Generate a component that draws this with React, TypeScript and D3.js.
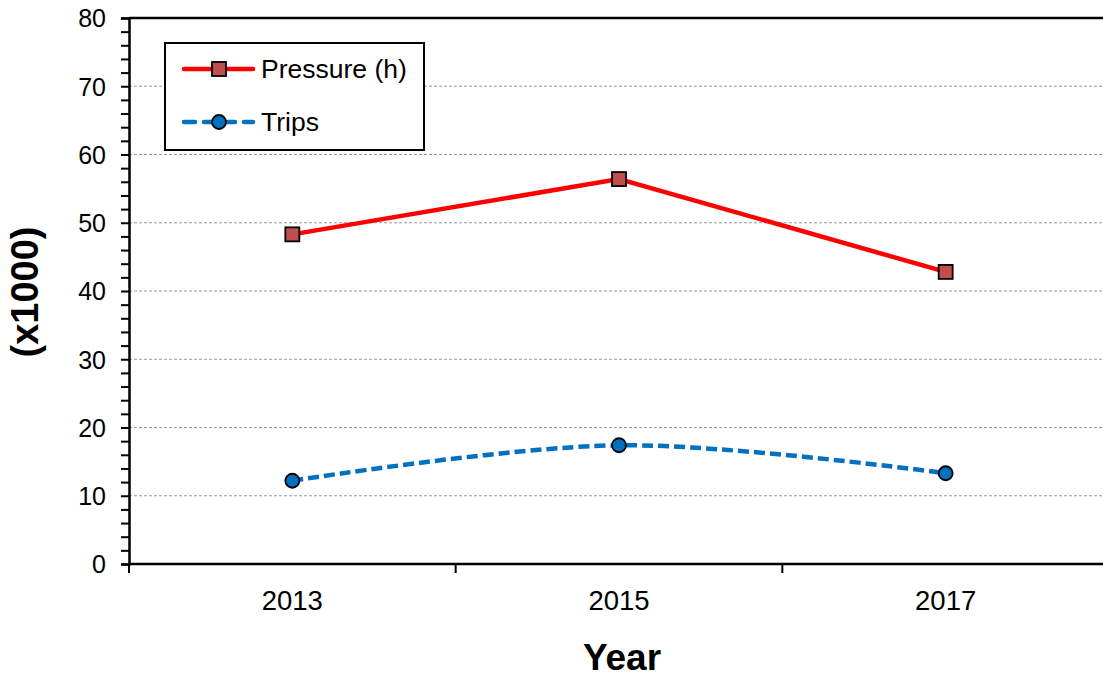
import React, { useEffect, useRef } from 'react';
import * as d3 from 'd3';

const years = ['2013', '2015', '2017'];
const pressure = [48.3, 56.4, 42.8];
const trips = [12.2, 17.4, 13.3];
const yTicks = [0, 10, 20, 30, 40, 50, 60, 70, 80];

export default function App() {
  const svgRef = useRef<SVGSVGElement>(null);

  useEffect(() => {
    if (!svgRef.current) return;
    const svg = d3.select(svgRef.current);
    svg.selectAll('*').remove();

    const left = 129;
    const top = 18;
    const bottom = 564;
    const right = 1109;
    const font = 'Arial, "Liberation Sans", sans-serif';

    const x = d3.scaleBand<string>().domain(years).range([left, right]);
    const y = d3.scaleLinear().domain([0, 80]).range([bottom, top]);
    const cx = (d: string) => (x(d) as number) + x.bandwidth() / 2;

    // gridlines
    svg.append('g')
      .selectAll('line')
      .data(yTicks.filter(t => t > 0 && t < 80))
      .enter()
      .append('line')
      .attr('x1', left)
      .attr('x2', 1103)
      .attr('y1', d => y(d))
      .attr('y2', d => y(d))
      .attr('stroke', '#9a9a9a')
      .attr('stroke-width', 1)
      .attr('stroke-dasharray', '3,2');

    // top border
    svg.append('line')
      .attr('x1', left).attr('x2', 1103)
      .attr('y1', top).attr('y2', top)
      .attr('stroke', '#000').attr('stroke-width', 2.5);

    // y axis
    const yAxis = d3.axisLeft(y).tickValues(d3.range(0, 81, 2)).tickSize(8).tickFormat(d => (+d % 10 === 0 ? String(d) : ''));
    const gy = svg.append('g').attr('transform', `translate(${left},0)`).call(yAxis);
    gy.select('.domain').attr('stroke-width', 2.5);
    gy.selectAll('.tick line').attr('stroke-width', 2);
    gy.selectAll('.tick text')
      .attr('x', -23)
      .attr('dy', '0.35em')
      .style('font-family', font)
      .style('font-size', '25px')
      .attr('fill', '#000');

    // x axis
    const gx = svg.append('g').attr('transform', `translate(0,${bottom})`);
    gx.append('line')
      .attr('x1', left - 1).attr('x2', 1103)
      .attr('stroke', '#000').attr('stroke-width', 2.5);
    gx.selectAll('line.tk')
      .data(years)
      .enter()
      .append('line')
      .attr('class', 'tk')
      .attr('x1', d => x(d) as number)
      .attr('x2', d => x(d) as number)
      .attr('y1', 0).attr('y2', 9)
      .attr('stroke', '#000').attr('stroke-width', 2);
    gx.selectAll('text')
      .data(years)
      .enter()
      .append('text')
      .attr('x', d => cx(d))
      .attr('y', 46)
      .attr('text-anchor', 'middle')
      .style('font-family', font)
      .style('font-size', '27.5px')
      .text(d => d);

    // axis titles
    svg.append('text')
      .attr('x', 622).attr('y', 670)
      .attr('text-anchor', 'middle')
      .style('font-family', font)
      .style('font-size', '37px')
      .style('font-weight', 'bold')
      .text('Year');
    svg.append('text')
      .attr('transform', 'translate(38,292) rotate(-90)')
      .attr('text-anchor', 'middle')
      .style('font-family', font)
      .style('font-size', '38px')
      .style('font-weight', 'bold')
      .text('(x1000)');

    // pressure line
    const line = d3.line<number>()
      .x((d, i) => cx(years[i]))
      .y(d => y(d));
    svg.append('path')
      .datum(pressure)
      .attr('fill', 'none')
      .attr('stroke', '#ff0000')
      .attr('stroke-width', 4.5)
      .attr('d', line);

    // trips line (smoothed)
    const smooth = d3.line<number>()
      .x((d, i) => cx(years[i]))
      .y(d => y(d))
      .curve(d3.curveCatmullRom.alpha(0.5));
    svg.append('path')
      .datum(trips)
      .attr('fill', 'none')
      .attr('stroke', '#0070c0')
      .attr('stroke-width', 4.5)
      .attr('stroke-dasharray', '11,5')
      .attr('d', smooth);

    svg.selectAll('rect.pm')
      .data(pressure)
      .enter()
      .append('rect')
      .attr('class', 'pm')
      .attr('x', (d, i) => cx(years[i]) - 7)
      .attr('y', d => y(d) - 7)
      .attr('width', 14).attr('height', 14)
      .attr('fill', '#c0504d')
      .attr('stroke', '#000').attr('stroke-width', 1.8);

    svg.selectAll('circle.tm')
      .data(trips)
      .enter()
      .append('circle')
      .attr('class', 'tm')
      .attr('cx', (d, i) => cx(years[i]))
      .attr('cy', d => y(d))
      .attr('r', 7)
      .attr('fill', '#0070c0')
      .attr('stroke', '#000').attr('stroke-width', 1.8);

    // legend
    const lg = svg.append('g');
    lg.append('rect')
      .attr('x', 165).attr('y', 43)
      .attr('width', 259).attr('height', 107)
      .attr('fill', '#fff')
      .attr('stroke', '#000').attr('stroke-width', 2);
    lg.append('line')
      .attr('x1', 184).attr('x2', 253).attr('y1', 69).attr('y2', 69)
      .attr('stroke', '#ff0000').attr('stroke-width', 4.5).attr('stroke-linecap', 'round');
    lg.append('rect')
      .attr('x', 212).attr('y', 62).attr('width', 14).attr('height', 14)
      .attr('fill', '#c0504d').attr('stroke', '#000').attr('stroke-width', 1.8);
    lg.append('text')
      .attr('x', 261).attr('y', 78)
      .style('font-family', font).style('font-size', '26.5px')
      .text('Pressure (h)');
    lg.append('line')
      .attr('x1', 184).attr('x2', 253).attr('y1', 122).attr('y2', 122)
      .attr('stroke', '#0070c0').attr('stroke-width', 4.5)
      .attr('stroke-dasharray', '11,9').attr('stroke-linecap', 'round');
    lg.append('circle')
      .attr('cx', 219).attr('cy', 122).attr('r', 7)
      .attr('fill', '#0070c0').attr('stroke', '#000').attr('stroke-width', 1.8);
    lg.append('text')
      .attr('x', 261).attr('y', 131)
      .style('font-family', font).style('font-size', '26.5px')
      .text('Trips');
  }, []);

  return (
    <svg
      ref={svgRef}
      width={1103}
      height={680}
      style={{ position: 'absolute', left: 0, top: 0, background: '#fff' }}
    />
  );
}
